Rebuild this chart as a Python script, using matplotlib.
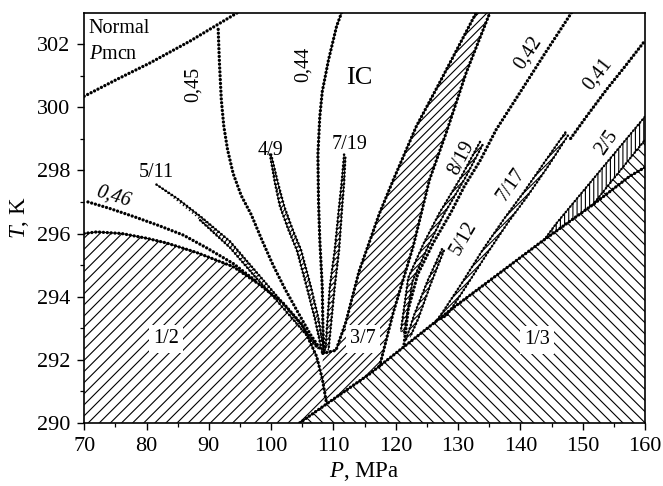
import matplotlib
matplotlib.use("Agg")
import matplotlib.pyplot as plt
import numpy as np

plt.rcParams['font.family'] = ['Liberation Serif', 'DejaVu Serif']
plt.rcParams['mathtext.fontset'] = 'custom'
plt.rcParams['mathtext.rm'] = 'Liberation Serif'
plt.rcParams['mathtext.it'] = 'Liberation Serif:italic'
plt.rcParams['hatch.linewidth'] = 0.8

# ---- phase boundaries (P in MPa, T in K) ----
normal_P = [70.0, 75.2, 80.5, 87.0, 94.6]
normal_T = [300.35, 300.88, 301.4, 302.1, 303.0]

half_P = [70.0, 72.0, 76.0, 80.0, 83.2, 88.0, 93.9, 98.0, 101.9, 105.0, 107.3, 108.2, 108.9]
half_T = [296.0, 296.05, 296.0, 295.85, 295.7, 295.4, 294.95, 294.4, 293.8, 293.1, 292.1, 291.4, 290.6]

third_P = [104.6, 108.9, 115.8, 120.6, 129.1, 137.7, 143.1, 151.6, 157.5, 160.0]
third_T = [290.0, 290.6, 291.55, 292.3, 293.63, 294.9, 295.7, 296.91, 297.81, 298.1]

c046_P = [70.6, 74.0, 77.9, 82.0, 85.9, 89.6, 93.9, 97.5]
c046_T = [297.0, 296.8, 296.54, 296.25, 295.95, 295.55, 295.05, 294.5]

c045_P = [91.5, 91.7, 92.0, 92.4, 93.0, 93.9, 95.2, 96.8, 98.5, 100.3, 102.2, 104.3, 106.3, 108.0]
c045_T = [302.47, 301.4, 300.24, 299.4, 298.66, 297.9, 297.2, 296.6, 295.8, 295.0, 294.25, 293.5, 292.8, 292.3]

c044_P = [111.3, 110.5, 109.2, 108.2, 107.8, 107.5, 107.6, 107.8, 108.2, 108.3, 108.5]
c044_T = [303.0, 302.57, 301.5, 300.5, 299.7, 298.5, 297.0, 295.8, 294.3, 293.0, 292.2]

c042_P = [148.2, 143.9, 139.9, 136.1, 133.5, 131.0, 128.8, 126.0, 123.5, 122.0, 121.3]
c042_T = [303.0, 301.7, 300.46, 299.29, 298.3, 297.5, 296.65, 295.7, 294.7, 293.6, 292.45]

c041_P = [159.7, 156.8, 153.8, 150.6, 147.9]
c041_T = [302.04, 301.3, 300.56, 299.71, 298.97]

# narrow commensurate strips: two edges each
s511a_P = [81.6, 85.0, 88.6, 93.4, 97.1, 101.0, 104.5, 107.5]
s511a_T = [297.55, 297.1, 296.55, 295.75, 294.9, 294.0, 293.2, 292.4]
s511b_P = [88.6, 93.4, 97.1, 101.0, 104.5, 107.5]
s511b_T = [296.42, 295.55, 294.7, 293.85, 293.05, 292.35]

s49a_P = [99.8, 100.6, 101.4, 102.8, 104.1, 105.7, 107.0, 108.2]
s49a_T = [298.5, 297.6, 296.86, 296.1, 295.48, 294.3, 293.3, 292.2]
s49b_P = [100.0, 101.1, 102.1, 103.5, 104.8, 106.4, 107.6, 108.5]
s49b_T = [298.5, 297.6, 296.86, 296.1, 295.48, 294.3, 293.3, 292.2]

s719a_P = [111.7, 111.3, 110.9, 110.2, 109.4, 108.7]
s719a_T = [298.5, 297.6, 296.86, 295.48, 294.3, 292.3]
s719b_P = [111.9, 111.7, 111.4, 110.9, 110.2, 109.2]
s719b_T = [298.4, 297.6, 296.86, 295.48, 294.3, 292.3]

s819a_P = [133.5, 130.5, 127.0, 124.5, 122.0, 120.8]
s819a_T = [298.9, 297.8, 296.65, 295.7, 294.6, 292.9]
s819b_P = [133.9, 131.1, 127.7, 125.2, 122.7, 121.3]
s819b_T = [298.8, 297.75, 296.6, 295.6, 294.5, 292.8]

s512a_P = [127.4, 125.1, 123.0, 121.6]
s512a_T = [295.5, 294.5, 293.45, 292.62]
s512b_P = [127.7, 125.6, 123.6, 122.3]
s512b_T = [295.45, 294.4, 293.3, 292.72]

s717a_P = [147.2, 144.0, 140.5, 137.5, 134.0, 130.5, 127.5, 126.2]
s717a_T = [299.2, 298.3, 297.3, 296.5, 295.5, 294.4, 293.5, 293.15]
s717b_P = [147.6, 144.5, 141.0, 138.0, 134.6, 131.2, 128.2, 126.8]
s717b_T = [299.1, 298.15, 297.15, 296.35, 295.35, 294.3, 293.4, 293.25]

# 3/7 band
b37l_P = [108.3, 110.4, 112.0, 114.1, 117.4, 119.6, 123.3, 127.0, 132.9]
b37l_T = [292.2, 292.3, 293.2, 294.8, 296.65, 297.7, 299.4, 300.77, 303.0]
b37r_P = [117.4, 119.6, 122.8, 125.4, 128.1, 131.3, 135.1]
b37r_T = [291.8, 293.5, 295.6, 297.7, 299.2, 301.1, 303.0]

# 2/5 strip
s25u_P = [143.8, 145.8, 150.0, 155.0, 160.0]
s25u_T = [295.8, 296.33, 297.33, 298.52, 299.71]
s25l_P = [151.6, 155.0, 160.0]
s25l_T = [296.91, 297.75, 298.97]

fig = plt.figure(figsize=(6.63, 4.86), dpi=100)
ax = fig.add_axes([0.127, 0.130, 0.846, 0.844])
ax.set_xlim(70, 160)
ax.set_ylim(290, 303)


def dots(P, T, lw=2.4, gap=1.15, solid=0.7):
    if solid:
        ax.plot(P, T, color='k', lw=solid, zorder=3)
    ax.plot(P, T, color='k', lw=lw, linestyle=(0, (0.01, gap)),
            dash_capstyle='round', zorder=4)


def strip(aP, aT, bP, bT, hatch='//////'):
    x = np.concatenate([aP, bP[::-1]])
    y = np.concatenate([aT, bT[::-1]])
    ax.fill(x, y, facecolor='white', edgecolor='k', hatch=hatch, lw=0, zorder=2)
    dots(aP, aT, lw=1.9, gap=1.4, solid=0.6)
    dots(bP, bT, lw=1.9, gap=1.4, solid=0.6)


# 1/2 phase
x12 = np.concatenate([half_P, third_P[:1], [70.0]])
y12 = np.concatenate([half_T, third_T[:1], [290.0]])
ax.fill(x12, y12, facecolor='white', edgecolor='k', hatch='///', lw=0, zorder=1)

# 1/3 phase
x13 = np.concatenate([third_P[:8], s25l_P[1:], [160.0, third_P[0]]])
y13 = np.concatenate([third_T[:8], s25l_T[1:], [290.0, 290.0]])
ax.fill(x13, y13, facecolor='white', edgecolor='k', hatch='\\\\\\', lw=0, zorder=1)

# 3/7 phase
x37 = np.concatenate([b37l_P, b37r_P[::-1], third_P[1:3][::-1], half_P[-2:-1]])
y37 = np.concatenate([b37l_T, b37r_T[::-1], [third_T[2] - 0.05, third_T[1]], half_T[-2:-1]])
ax.fill(x37, y37, facecolor='white', edgecolor='k', hatch='////', lw=0, zorder=1)

# 2/5 phase
x25 = np.concatenate([s25u_P, s25l_P[::-1], third_P[6:7]])
y25 = np.concatenate([s25u_T, s25l_T[::-1], third_T[6:7]])
ax.fill(x25, y25, facecolor='white', edgecolor='k', hatch='||||', lw=0, zorder=1)

# boundaries
dots(normal_P, normal_T, solid=0)
dots(half_P, half_T)
dots(third_P, third_T, solid=1.0)
dots(c046_P, c046_T, solid=0)
dots(c045_P, c045_T, solid=0)
dots(c044_P, c044_T)
dots(c042_P, c042_T, solid=0)
dots(c041_P, c041_T, solid=0.4)
dots(b37l_P, b37l_T)
dots(b37r_P, b37r_T)
dots(s25u_P, s25u_T, lw=1.8, gap=1.4)
dots(s25l_P, s25l_T, lw=1.8, gap=1.4)

strip(s511a_P, s511a_T, s511b_P, s511b_T)
strip(s49a_P, s49a_T, s49b_P, s49b_T)
strip(s719a_P, s719a_T, s719b_P, s719b_T)
strip(s819a_P, s819a_T, s819b_P, s819b_T)
strip(s512a_P, s512a_T, s512b_P, s512b_T)
strip(s717a_P, s717a_T, s717b_P, s717b_T)

# labels
fs = 14.5
ax.text(70.7, 302.5, "Normal", fontsize=14.5, ha='left', va='center', zorder=6)
ax.text(70.7, 301.67, "$P$mcn", fontsize=14.5, ha='left', va='center', zorder=6)
ax.text(87.5, 300.72, "0,45", fontsize=fs, rotation=90, ha='center', va='center')
ax.text(105.1, 301.36, "0,44", fontsize=fs, rotation=90, ha='center', va='center')
ax.text(114.2, 300.93, "IC", fontsize=19, ha='center', va='center')
ax.text(99.9, 298.62, "4/9", fontsize=fs, ha='center', va='center')
ax.text(112.5, 298.82, "7/19", fontsize=fs, ha='center', va='center')
ax.text(81.6, 297.92, "5/11", fontsize=fs, ha='center', va='center')
ax.text(74.65, 297.17, "0,46", fontsize=fs, style='italic', rotation=-17,
        ha='center', va='center')
ax.text(141.2, 301.73, "0,42", fontsize=fs, rotation=57, ha='center', va='center')
ax.text(152.4, 301.04, "0,41", fontsize=fs, rotation=52, ha='center', va='center')
ax.text(130.5, 298.4, "8/19", fontsize=fs, rotation=62, ha='center', va='center')
ax.text(138.5, 297.55, "7/17", fontsize=fs, rotation=55, ha='center', va='center')
ax.text(130.9, 295.85, "5/12", fontsize=fs, rotation=60, ha='center', va='center')
ax.text(153.9, 298.87, "2/5", fontsize=fs, rotation=55, ha='center', va='center')
box = dict(facecolor='white', edgecolor='none', pad=3)
ax.text(83.1, 292.66, "1/2", fontsize=fs, ha='center', va='center', bbox=box, zorder=6)
ax.text(114.7, 292.66, "3/7", fontsize=fs, ha='center', va='center', bbox=box, zorder=6)
ax.text(142.6, 292.63, "1/3", fontsize=fs, ha='center', va='center', bbox=box, zorder=6)

# axes
ax.set_xticks(np.arange(70, 161, 10))
ax.set_xticks(np.arange(75, 160, 10), minor=True)
ax.set_yticks(np.arange(290, 303, 2))
ax.set_yticks(np.arange(291, 303, 2), minor=True)
ax.tick_params(which='both', direction='out', top=False, right=False, labelsize=16)
ax.tick_params(which='major', length=5, width=1.0, pad=5)
ax.tick_params(which='minor', length=3, width=0.9)
for sp in ax.spines.values():
    sp.set_linewidth(1.2)
ax.set_xlabel("$P$, MPa", fontsize=16.5, labelpad=3)
ax.set_ylabel("$T$, K", fontsize=16.5, labelpad=4)

fig.savefig("out.png", dpi=100)
